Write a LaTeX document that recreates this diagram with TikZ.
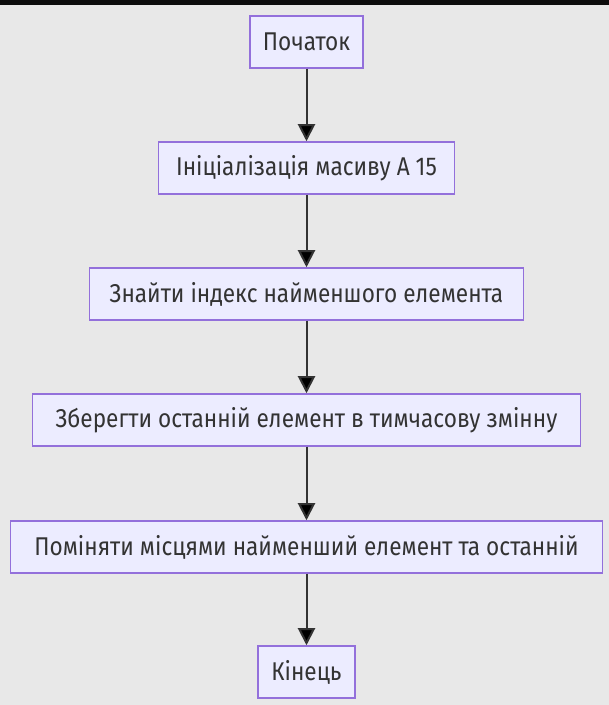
\documentclass[tikz,border=0pt]{standalone}
\usepackage{fontspec}
\setmainfont{Fira Sans}[FakeStretch=0.88]
\usetikzlibrary{arrows.meta}
\definecolor{pagegray}{HTML}{E8E8E8}
\definecolor{boxfill}{HTML}{ECECFF}
\definecolor{boxline}{HTML}{9370DB}
\definecolor{linkgray}{HTML}{333333}
\begin{document}
\begin{tikzpicture}[x=1pt,y=1pt,>={Triangle[length=17pt,width=17pt]},font=\fontsize{25.7}{30}\selectfont]
  \tikzset{stepbox/.style={draw=boxline,fill=boxfill,line width=1.5pt,minimum height=52pt,inner sep=0pt,text=linkgray}}
  \fill[pagegray] (0,0) rectangle (609,705);
  \fill[black!95] (0,700) rectangle (609,705);
  \node[stepbox,minimum width=113pt] (start) at (306.5,663) {Початок};
  \node[stepbox,minimum width=296pt] (init)  at (306.5,537) {Ініціалізація масиву A 15};
  \node[stepbox,minimum width=434pt] (find)  at (306.5,411) {Знайти індекс найменшого елемента};
  \node[stepbox,minimum width=548pt] (save)  at (306.5,285) {Зберегти останній елемент в тимчасову змінну};
  \node[stepbox,minimum width=592pt] (swap)  at (306.5,158) {Поміняти місцями найменший елемент та останній};
  \node[stepbox,minimum width=97pt]  (stop)  at (306.5,33)  {Кінець};
  \path[->,draw=linkgray,line width=2pt]
    (start) edge (init)
    (init)  edge (find)
    (find)  edge (save)
    (save)  edge (swap)
    (swap)  edge (stop);
\end{tikzpicture}
\end{document}
